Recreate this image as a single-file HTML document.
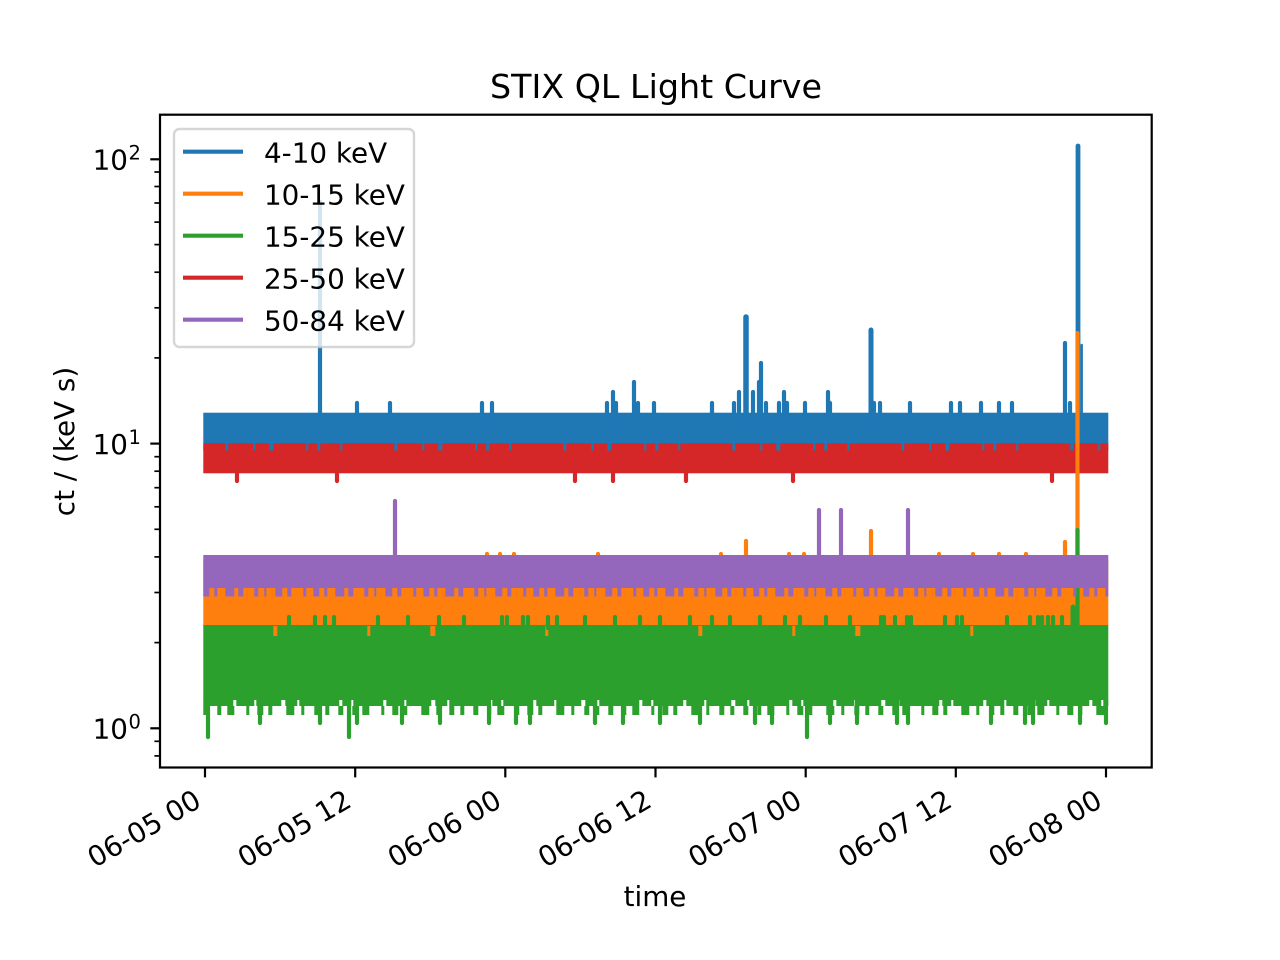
<!DOCTYPE html>
<html>
<head>
<meta charset="utf-8">
<style>
html,body{margin:0;padding:0;background:#fff;}
svg{display:block;}
text{font-family:"DejaVu Sans","Liberation Sans",sans-serif;fill:#000;}
</style>
</head>
<body>
<svg width="1280" height="960" viewBox="0 0 1280 960" xmlns="http://www.w3.org/2000/svg">
<rect x="0" y="0" width="1280" height="960" fill="#fff"/>

<g stroke-linecap="round" fill="none">
  <rect x="203.3" y="412.7" width="905" height="38" fill="#1f77b4" stroke="none"/>
  <g stroke="#1f77b4" stroke-width="4.2">
    <line x1="320" y1="420" x2="320" y2="202"/>
    <line x1="357" y1="420" x2="357" y2="403"/>
    <line x1="390" y1="420" x2="390" y2="403"/>
    <line x1="482" y1="420" x2="482" y2="403"/>
    <line x1="492" y1="420" x2="492" y2="403"/>
    <line x1="607" y1="420" x2="607" y2="403"/>
    <line x1="613" y1="420" x2="613" y2="392"/>
    <line x1="616" y1="420" x2="616" y2="403"/>
    <line x1="634" y1="420" x2="634" y2="382"/>
    <line x1="638" y1="420" x2="638" y2="403"/>
    <line x1="654" y1="420" x2="654" y2="403"/>
    <line x1="712" y1="420" x2="712" y2="403"/>
    <line x1="734" y1="420" x2="734" y2="403"/>
    <line x1="739" y1="420" x2="739" y2="392"/>
    <line x1="746" y1="420" x2="746" y2="317" stroke-width="5.5"/>
    <line x1="753" y1="420" x2="753" y2="392"/>
    <line x1="759" y1="420" x2="759" y2="382"/>
    <line x1="761" y1="420" x2="761" y2="363"/>
    <line x1="766" y1="420" x2="766" y2="403"/>
    <line x1="779" y1="420" x2="779" y2="403"/>
    <line x1="784" y1="420" x2="784" y2="392"/>
    <line x1="787" y1="420" x2="787" y2="403"/>
    <line x1="805" y1="420" x2="805" y2="403"/>
    <line x1="828" y1="420" x2="828" y2="392"/>
    <line x1="830" y1="420" x2="830" y2="403"/>
    <line x1="871" y1="420" x2="871" y2="330" stroke-width="5"/>
    <line x1="874" y1="420" x2="874" y2="403"/>
    <line x1="880" y1="420" x2="880" y2="403"/>
    <line x1="910" y1="420" x2="910" y2="403"/>
    <line x1="951" y1="420" x2="951" y2="403"/>
    <line x1="960" y1="420" x2="960" y2="403"/>
    <line x1="981" y1="420" x2="981" y2="403"/>
    <line x1="999" y1="420" x2="999" y2="403"/>
    <line x1="1012" y1="420" x2="1012" y2="403"/>
    <line x1="1065" y1="420" x2="1065" y2="343"/>
    <line x1="1070" y1="420" x2="1070" y2="403"/>
    <line x1="1078" y1="420" x2="1078" y2="146" stroke-width="4.8"/>
    <line x1="1081.7" y1="420" x2="1081.7" y2="345" stroke-width="2.4"/>
  </g>

  <rect x="203.3" y="560" width="905" height="66" fill="#ff7f0e" stroke="none"/>
  <g stroke="#ff7f0e" stroke-width="4.2">
    <line x1="487" y1="562" x2="487" y2="554"/>
    <line x1="500" y1="562" x2="500" y2="554"/>
    <line x1="514" y1="562" x2="514" y2="554"/>
    <line x1="598" y1="562" x2="598" y2="554"/>
    <line x1="721" y1="562" x2="721" y2="554"/>
    <line x1="746" y1="562" x2="746" y2="541"/>
    <line x1="789" y1="562" x2="789" y2="554"/>
    <line x1="804" y1="562" x2="804" y2="554"/>
    <line x1="871" y1="562" x2="871" y2="531"/>
    <line x1="939" y1="562" x2="939" y2="554"/>
    <line x1="973" y1="562" x2="973" y2="554"/>
    <line x1="999" y1="562" x2="999" y2="554"/>
    <line x1="1026" y1="562" x2="1026" y2="554"/>
    <line x1="1065" y1="562" x2="1065" y2="542"/>
    <line x1="1077.5" y1="562" x2="1077.5" y2="333"/>
  </g>

  <rect x="203.3" y="625" width="905" height="75" fill="#2ca02c" stroke="none"/>
  <line x1="203.3" y1="703" x2="1108.3" y2="703" stroke="#2ca02c" stroke-width="6" stroke-linecap="butt" stroke-dasharray="30 3 18 2 25 4 12 2 40 3 9 2"/>
  <line x1="203.3" y1="710.5" x2="1108.3" y2="710.5" stroke="#2ca02c" stroke-width="9" stroke-linecap="butt" stroke-dasharray="5 9 4 6 7 12 3 8 6 5 4 14 8 7 3 10 5 6 4 9"/>
  <line x1="203.3" y1="631" x2="1108.3" y2="631" stroke="#ff7f0e" stroke-width="10" stroke-linecap="butt" stroke-dasharray="0 70 4 90 3 60 5 110 3 80"/>
  <g stroke="#2ca02c" stroke-width="4.2">
    <line x1="289" y1="628" x2="289" y2="617"/>
    <line x1="315" y1="628" x2="315" y2="617"/>
    <line x1="325" y1="628" x2="325" y2="617"/>
    <line x1="334" y1="628" x2="334" y2="617"/>
    <line x1="378" y1="628" x2="378" y2="617"/>
    <line x1="408" y1="628" x2="408" y2="617"/>
    <line x1="439" y1="628" x2="439" y2="617"/>
    <line x1="464" y1="628" x2="464" y2="617"/>
    <line x1="502" y1="628" x2="502" y2="617"/>
    <line x1="507" y1="628" x2="507" y2="617"/>
    <line x1="523" y1="628" x2="523" y2="617"/>
    <line x1="528" y1="628" x2="528" y2="617"/>
    <line x1="548" y1="628" x2="548" y2="617"/>
    <line x1="557" y1="628" x2="557" y2="617"/>
    <line x1="585" y1="628" x2="585" y2="617"/>
    <line x1="615" y1="628" x2="615" y2="617"/>
    <line x1="640" y1="628" x2="640" y2="617"/>
    <line x1="660" y1="628" x2="660" y2="617"/>
    <line x1="690" y1="628" x2="690" y2="617"/>
    <line x1="712" y1="628" x2="712" y2="617"/>
    <line x1="730" y1="628" x2="730" y2="617"/>
    <line x1="760" y1="628" x2="760" y2="617"/>
    <line x1="785" y1="628" x2="785" y2="617"/>
    <line x1="800" y1="628" x2="800" y2="617"/>
    <line x1="826" y1="628" x2="826" y2="617"/>
    <line x1="850" y1="628" x2="850" y2="617"/>
    <line x1="881" y1="628" x2="881" y2="617"/>
    <line x1="884" y1="628" x2="884" y2="617"/>
    <line x1="895" y1="628" x2="895" y2="617"/>
    <line x1="907" y1="628" x2="907" y2="617"/>
    <line x1="911" y1="628" x2="911" y2="617"/>
    <line x1="945" y1="628" x2="945" y2="617"/>
    <line x1="957" y1="628" x2="957" y2="617"/>
    <line x1="962" y1="628" x2="962" y2="617"/>
    <line x1="1007" y1="628" x2="1007" y2="617"/>
    <line x1="1030" y1="628" x2="1030" y2="617"/>
    <line x1="1038" y1="628" x2="1038" y2="617"/>
    <line x1="1042" y1="628" x2="1042" y2="617"/>
    <line x1="1048" y1="628" x2="1048" y2="617"/>
    <line x1="1053" y1="628" x2="1053" y2="617"/>
    <line x1="1062" y1="628" x2="1062" y2="617"/>
    <line x1="1073" y1="628" x2="1073" y2="607" stroke-width="5"/>
    <line x1="1077.5" y1="628" x2="1077.5" y2="530"/>
    <line x1="208" y1="700" x2="208" y2="737"/>
    <line x1="260" y1="700" x2="260" y2="723"/>
    <line x1="320" y1="700" x2="320" y2="723"/>
    <line x1="349" y1="700" x2="349" y2="737"/>
    <line x1="357" y1="700" x2="357" y2="723"/>
    <line x1="402" y1="700" x2="402" y2="723"/>
    <line x1="440" y1="700" x2="440" y2="723"/>
    <line x1="489" y1="700" x2="489" y2="723"/>
    <line x1="516" y1="700" x2="516" y2="723"/>
    <line x1="530" y1="700" x2="530" y2="723"/>
    <line x1="595" y1="700" x2="595" y2="723"/>
    <line x1="623" y1="700" x2="623" y2="723"/>
    <line x1="660" y1="700" x2="660" y2="723"/>
    <line x1="700" y1="700" x2="700" y2="723"/>
    <line x1="755" y1="700" x2="755" y2="723"/>
    <line x1="772" y1="700" x2="772" y2="723"/>
    <line x1="807" y1="700" x2="807" y2="737"/>
    <line x1="830" y1="700" x2="830" y2="723"/>
    <line x1="857" y1="700" x2="857" y2="723"/>
    <line x1="897" y1="700" x2="897" y2="723"/>
    <line x1="908" y1="700" x2="908" y2="723"/>
    <line x1="991" y1="700" x2="991" y2="723"/>
    <line x1="1025" y1="700" x2="1025" y2="723"/>
    <line x1="1033" y1="700" x2="1033" y2="723"/>
    <line x1="1080" y1="700" x2="1080" y2="723"/>
    <line x1="1106" y1="700" x2="1106" y2="723"/>
  </g>

  <rect x="203.3" y="443.3" width="905" height="30" fill="#d62728" stroke="none"/>
  <line x1="203.3" y1="447" x2="1108.3" y2="447" stroke="#1f77b4" stroke-width="7" stroke-linecap="butt" stroke-dasharray="0 22 3 25 2 14 4 33 2 9 3 20 2 30"/>
  <g stroke="#d62728" stroke-width="4.2">
    <line x1="237" y1="470" x2="237" y2="481"/>
    <line x1="337" y1="470" x2="337" y2="481"/>
    <line x1="575" y1="470" x2="575" y2="481"/>
    <line x1="613" y1="470" x2="613" y2="481"/>
    <line x1="686" y1="470" x2="686" y2="481"/>
    <line x1="793" y1="470" x2="793" y2="481"/>
    <line x1="1052" y1="470" x2="1052" y2="481"/>
  </g>
  <line x1="1077.5" y1="443" x2="1077.5" y2="474" stroke="#ff7f0e" stroke-width="4"/>

  <rect x="203.3" y="555" width="905" height="33" fill="#9467bd" stroke="none"/>
  <line x1="203.3" y1="592" x2="1108.3" y2="592" stroke="#9467bd" stroke-width="9" stroke-linecap="butt" stroke-dasharray="6 5 3 8 9 4 5 11 4 6 2 9 7 5 4 12 3 7"/>
  <g stroke="#9467bd" stroke-width="4.2">
    <line x1="395" y1="560" x2="395" y2="501"/>
    <line x1="819" y1="560" x2="819" y2="510"/>
    <line x1="841" y1="560" x2="841" y2="510"/>
    <line x1="908" y1="560" x2="908" y2="510"/>
  </g>
</g>

<rect x="160" y="114.7" width="991.7" height="652.8" fill="none" stroke="#000" stroke-width="2.2"/>

<g stroke="#000" stroke-width="2.2">
  <line x1="150.3" y1="159.3" x2="160" y2="159.3"/>
  <line x1="150.3" y1="443.6" x2="160" y2="443.6"/>
  <line x1="150.3" y1="728.3" x2="160" y2="728.3"/>
</g>
<g stroke="#000" stroke-width="1.7">
  <line x1="154.4" y1="755.9" x2="160" y2="755.9"/>
  <line x1="154.4" y1="741.3" x2="160" y2="741.3"/>
  <line x1="154.4" y1="642.6" x2="160" y2="642.6"/>
  <line x1="154.4" y1="592.5" x2="160" y2="592.5"/>
  <line x1="154.4" y1="556.9" x2="160" y2="556.9"/>
  <line x1="154.4" y1="529.3" x2="160" y2="529.3"/>
  <line x1="154.4" y1="506.8" x2="160" y2="506.8"/>
  <line x1="154.4" y1="487.7" x2="160" y2="487.7"/>
  <line x1="154.4" y1="471.2" x2="160" y2="471.2"/>
  <line x1="154.4" y1="456.7" x2="160" y2="456.7"/>
  <line x1="154.4" y1="357.9" x2="160" y2="357.9"/>
  <line x1="154.4" y1="307.8" x2="160" y2="307.8"/>
  <line x1="154.4" y1="272.2" x2="160" y2="272.2"/>
  <line x1="154.4" y1="244.6" x2="160" y2="244.6"/>
  <line x1="154.4" y1="222.1" x2="160" y2="222.1"/>
  <line x1="154.4" y1="203.0" x2="160" y2="203.0"/>
  <line x1="154.4" y1="186.5" x2="160" y2="186.5"/>
  <line x1="154.4" y1="172.0" x2="160" y2="172.0"/>
</g>
<g font-size="27.8">
  <text x="128" y="169.5" text-anchor="end">10</text>
  <text x="128.5" y="159.5" font-size="19.5">2</text>
  <text x="128" y="453.8" text-anchor="end">10</text>
  <text x="128.5" y="443.8" font-size="19.5">1</text>
  <text x="128" y="738.5" text-anchor="end">10</text>
  <text x="128.5" y="728.5" font-size="19.5">0</text>
</g>

<g stroke="#000" stroke-width="2.2">
  <line x1="205" y1="767.5" x2="205" y2="777.4"/>
  <line x1="355.2" y1="767.5" x2="355.2" y2="777.4"/>
  <line x1="505.3" y1="767.5" x2="505.3" y2="777.4"/>
  <line x1="655.5" y1="767.5" x2="655.5" y2="777.4"/>
  <line x1="805.7" y1="767.5" x2="805.7" y2="777.4"/>
  <line x1="955.8" y1="767.5" x2="955.8" y2="777.4"/>
  <line x1="1106" y1="767.5" x2="1106" y2="777.4"/>
</g>
<g font-size="27.8" text-anchor="end">
  <text x="203" y="805.7" transform="rotate(-30 203 805.7)">06-05 00</text>
  <text x="353.2" y="805.7" transform="rotate(-30 353.2 805.7)">06-05 12</text>
  <text x="503.3" y="805.7" transform="rotate(-30 503.3 805.7)">06-06 00</text>
  <text x="653.5" y="805.7" transform="rotate(-30 653.5 805.7)">06-06 12</text>
  <text x="803.7" y="805.7" transform="rotate(-30 803.7 805.7)">06-07 00</text>
  <text x="953.8" y="805.7" transform="rotate(-30 953.8 805.7)">06-07 12</text>
  <text x="1104" y="805.7" transform="rotate(-30 1104 805.7)">06-08 00</text>
</g>

<text x="655" y="906" font-size="27.8" text-anchor="middle">time</text>
<text x="74" y="441.5" font-size="27.8" text-anchor="middle" transform="rotate(-90 74 441.5)">ct / (keV s)</text>
<text x="656" y="98" font-size="33.3" text-anchor="middle">STIX QL Light Curve</text>

<rect x="174" y="129" width="240" height="218" rx="5.5" ry="5.5" fill="#fff" fill-opacity="0.8" stroke="#cccccc" stroke-opacity="0.8" stroke-width="2.4"/>
<g stroke-width="4.2" stroke-linecap="butt">
  <line x1="183" y1="151.7" x2="243" y2="151.7" stroke="#1f77b4"/>
  <line x1="183" y1="193.7" x2="243" y2="193.7" stroke="#ff7f0e"/>
  <line x1="183" y1="235.7" x2="243" y2="235.7" stroke="#2ca02c"/>
  <line x1="183" y1="277.7" x2="243" y2="277.7" stroke="#d62728"/>
  <line x1="183" y1="319.7" x2="243" y2="319.7" stroke="#9467bd"/>
</g>
<g font-size="27.8">
  <text x="264" y="162.3">4-10 keV</text>
  <text x="264" y="204.3">10-15 keV</text>
  <text x="264" y="246.3">15-25 keV</text>
  <text x="264" y="288.3">25-50 keV</text>
  <text x="264" y="330.3">50-84 keV</text>
</g>
</svg>
</body>
</html>
